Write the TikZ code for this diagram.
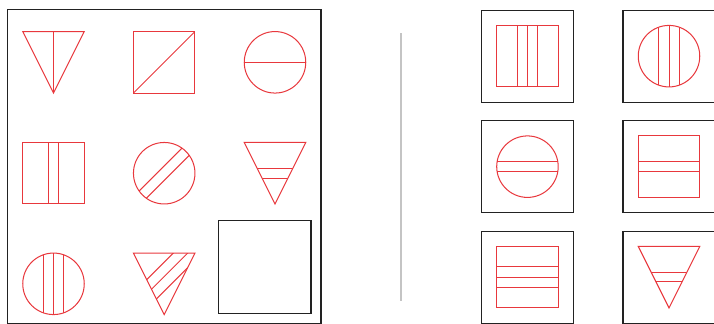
\documentclass[tikz,border=0pt]{standalone}
\usepackage{tikz}
\definecolor{puzRed}{HTML}{E8383D}
\definecolor{puzInk}{HTML}{222222}
\definecolor{puzRule}{HTML}{C4C4C4}
\tikzset{
  fig/.style={draw=puzRed, line width=0.85pt},
  optbox/.style={draw=puzInk, line width=0.9pt, minimum size=2.694cm, inner sep=0pt},
  sepline/.style={draw=puzRule, line width=1.1pt},
}
% outlines, half size 3
\newcommand{\puzTri}{(-3,3) -- (3,3) -- (0,-3) -- cycle}
\newcommand{\puzSq}{(-3,-3) rectangle (3,3)}
\newcommand{\puzCirc}{(0,0) circle (3)}
% strokes inside an outline
\newcommand{\puzV}[1]{\foreach \v in {#1}{\draw[fig] (\v,-4) -- (\v,4);}}
\newcommand{\puzH}[1]{\foreach \v in {#1}{\draw[fig] (-4,\v) -- (4,\v);}}
\newcommand{\puzD}[1]{\foreach \v in {#1}{\draw[fig] (-4,{-4-(\v)}) -- (4,{4-(\v)});}}
% one figure: centre, outline, strokes
\newcommand{\puzCell}[3]{%
  \begin{scope}[shift={(#1)}]
    \begin{scope}\clip #2; #3\end{scope}
    \draw[fig] #2;
  \end{scope}}

\begin{document}
\begin{tikzpicture}[x=0.3cm, y=0.3cm]
  \useasboundingbox (0,0) rectangle (69.66,31.61);
  % problem matrix
  \node[optbox, minimum size=9.18cm] (mat) at (16.02,15.35) {};
  \foreach \r/\y in {1/25.53,2/14.71,3/3.92}
    \foreach \c/\x in {1/5.22,2/16.02,3/26.83}
      \coordinate (m\r\c) at (\x,\y);
  \puzCell{m11}{\puzTri}{\puzV{0}}
  \puzCell{m12}{\puzSq}{\puzD{0}}
  \puzCell{m13}{\puzCirc}{\puzH{0}}
  \puzCell{m21}{\puzSq}{\puzV{-0.47,0.47}}
  \puzCell{m22}{\puzCirc}{\puzD{-0.71,0.71}}
  \puzCell{m23}{\puzTri}{\puzH{-0.47,0.47}}
  \puzCell{m31}{\puzCirc}{\puzV{-1,0,1}}
  \puzCell{m32}{\puzTri}{\puzD{-2.12,-0.71,0.71}}
  \node[optbox, minimum size=2.715cm] (blank) at (25.82,5.53) {};
  % separator
  \coordinate (sepT) at (39.12,28.36);
  \coordinate (sepB) at (39.12,2.24);
  \draw[sepline] (sepT) -- (sepB);
  % answer options
  \foreach \n/\x/\y in {1/51.46/26.13, 2/65.27/26.13, 3/51.46/15.35,
                        4/65.27/15.35, 5/51.46/4.57, 6/65.27/4.57}
    \node[optbox] (opt\n) at (\x,\y) {};
  \puzCell{opt1}{\puzSq}{\puzV{-1,0,1}}
  \puzCell{opt2}{\puzCirc}{\puzV{-1,0,1}}
  \puzCell{opt3}{\puzCirc}{\puzH{-0.47,0.47}}
  \puzCell{opt4}{\puzSq}{\puzH{-0.47,0.47}}
  \puzCell{opt5}{\puzSq}{\puzH{-1,0,1}}
  \puzCell{opt6}{\puzTri}{\puzH{-0.47,0.47}}
\end{tikzpicture}
\end{document}
